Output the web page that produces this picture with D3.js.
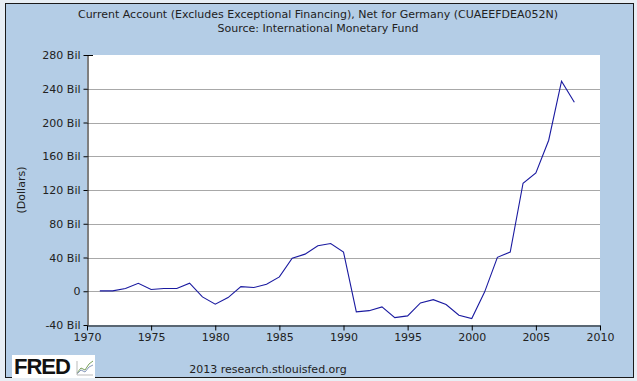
<!DOCTYPE html>
<html><head><meta charset="utf-8">
<script src="https://cdn.jsdelivr.net/npm/d3@7"></script>
<style>body{margin:0;background:#e8eef4;} svg{display:block;}</style>
</head><body>
<script>
const years = d3.range(1971, 2009);
const values = [0.5,0.5,3.2,9.5,2,3.2,3.2,9.5,-6.7,-15.4,-7.5,5.5,4.4,8.3,17,39.2,44,53.9,56.6,46.5,-24.5,-23,-18.5,-31.2,-29.2,-13.8,-10,-15.8,-28.4,-32.4,-1,40.2,46.5,128,140.2,179,249,224];
const yTicks = [-40,0,40,80,120,160,200,240,280];
const xTicks = [1970,1975,1980,1985,1990,1995,2000,2005,2010];
const title1 = "Current Account (Excludes Exceptional Financing), Net for Germany (CUAEEFDEA052N)";
const title2 = "Source: International Monetary Fund";

const W=637,H=381;
const svg=d3.select("body").append("svg").attr("width",W).attr("height",H);
svg.append("rect").attr("x",0).attr("y",0).attr("width",W).attr("height",H).attr("fill","#e8eef4");
svg.append("rect").attr("x",5.5).attr("y",3.5).attr("width",628).attr("height",374).attr("fill","#b4cde6").attr("stroke","#1a1a1a").attr("stroke-width",1);

const font="DejaVu Sans, Verdana, sans-serif";
svg.append("text").attr("x",318).attr("y",18).attr("text-anchor","middle").attr("font-family",font).attr("font-size",11).attr("fill","#222").text(title1);
svg.append("text").attr("x",318).attr("y",32).attr("text-anchor","middle").attr("font-family",font).attr("font-size",11).attr("fill","#222").text(title2);

const L=87,R=600,T=55,B=325;
const x=d3.scaleLinear().domain([1970,2010]).range([L,R]);
const y=d3.scaleLinear().domain([-40,280]).range([B,T]);

svg.append("rect").attr("x",L).attr("y",T).attr("width",R-L).attr("height",B-T).attr("fill","#fff");

svg.append("g").selectAll("line").data(yTicks.filter(d=>d>-40&&d<280)).join("line")
  .attr("x1",L).attr("x2",R).attr("y1",d=>Math.round(y(d))+0.5).attr("y2",d=>Math.round(y(d))+0.5)
  .attr("stroke","#a8a8a8").attr("stroke-width",1);

const yAxis=svg.append("g").attr("transform",`translate(${L+0.5},0)`)
  .call(d3.axisLeft(y).tickValues(yTicks).tickSize(4).tickSizeOuter(0).tickFormat(d=>d===0?"0":d+" Bil"));
const xAxis=svg.append("g").attr("transform",`translate(0,${B+0.5})`)
  .call(d3.axisBottom(x).tickValues(xTicks).tickSize(5).tickSizeOuter(0).tickFormat(d3.format("d")));
[yAxis,xAxis].forEach(a=>{
  a.selectAll("text").attr("font-family",font).attr("font-size",11).attr("fill","#222");
  a.selectAll("line").attr("stroke","#000");
  a.select(".domain").attr("stroke","#000");
});
yAxis.selectAll("text").attr("x",-7);
xAxis.selectAll("text").attr("y",8);
svg.append("line").attr("x1",L).attr("x2",L+6).attr("y1",T+0.5).attr("y2",T+0.5).attr("stroke","#000");

svg.append("text").attr("transform",`translate(25,${(T+B)/2}) rotate(-90)`).attr("text-anchor","middle")
  .attr("font-family",font).attr("font-size",11).attr("fill","#222").text("(Dollars)");

const line=d3.line().x((d,i)=>x(years[i])).y(d=>y(d));
svg.append("path").datum(values).attr("d",line).attr("fill","none").attr("stroke","#1a1aa0").attr("stroke-width",1.1);

svg.append("rect").attr("x",12).attr("y",355).attr("width",83).attr("height",23).attr("fill","#fff");
svg.append("text").attr("x",14).attr("y",374).attr("font-family","Liberation Sans, Arial, sans-serif").attr("font-weight","bold").attr("font-size",22).attr("fill","#111").attr("letter-spacing","-1").text("FRED");
const icon=svg.append("g").attr("transform","translate(77,359)");
icon.append("path").attr("d","M0,14 L4,9 L8,11 L12,5 L16,2").attr("fill","none").attr("stroke","#7aa05a").attr("stroke-width",1);
icon.append("path").attr("d","M0,15 L4,11 L8,13 L12,8 L16,6").attr("fill","none").attr("stroke","#8899bb").attr("stroke-width",1);
icon.append("path").attr("d","M0,16 L16,16 M0,16 L0,2").attr("fill","none").attr("stroke","#bbb").attr("stroke-width",1);
svg.append("text").attr("x",268).attr("y",373).attr("text-anchor","middle").attr("font-family",font).attr("font-size",11).attr("fill","#222").text("2013 research.stlouisfed.org");
</script>
</body></html>
